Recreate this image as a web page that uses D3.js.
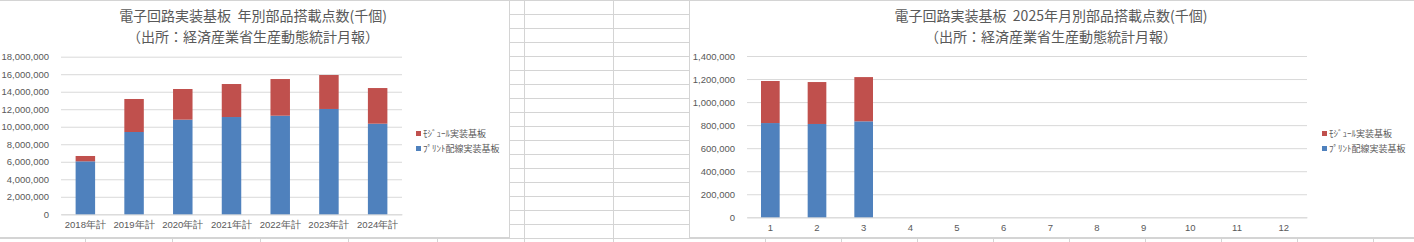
<!DOCTYPE html>
<html>
<head>
<meta charset="utf-8">
<script src="https://cdn.jsdelivr.net/npm/d3@7"></script>
<style>
  body { margin: 0; background: #fff; }
  svg { display: block; font-family: "Noto Sans CJK JP", "Noto Sans", sans-serif; }
  .tick text { fill: #595959; }
</style>
</head>
<body>
<svg width="1414" height="242"></svg>
<script>
// yearly totals (left chart)
const years = ["2018年計", "2019年計", "2020年計", "2021年計", "2022年計", "2023年計", "2024年計"];
const printYear = [6050000, 9400000, 10810000, 11110000, 11260000, 12030000, 10350000];
const moduleYear = [610000, 3770000, 3500000, 3770000, 4190000, 3880000, 4070000];
const yearTicks = [0, 2000000, 4000000, 6000000, 8000000, 10000000, 12000000, 14000000, 16000000, 18000000];

// 2025 monthly (right chart)
const months = ["1", "2", "3", "4", "5", "6", "7", "8", "9", "10", "11", "12"];
const printMonth = [818000, 810000, 833000];
const moduleMonth = [365000, 364000, 384000];
const monthTicks = [0, 200000, 400000, 600000, 800000, 1000000, 1200000, 1400000];

const seriesNames = ["ﾓｼﾞｭｰﾙ実装基板", "ﾌﾟﾘﾝﾄ配線実装基板"];
const colors = { print: "#4F81BD", module: "#C0504D" };
const textColor = "#595959";
const gridColor = "#D9D9D9";
const sheetColor = "#D4D4D4";

const svg = d3.select("svg");
const W = 1414, H = 242;

// spreadsheet cells behind the charts
const sheet = svg.append("g");
d3.range(0, 18).forEach((i) => {
  sheet.append("line")
    .attr("x1", 0).attr("x2", W)
    .attr("y1", i * 14 + 0.5).attr("y2", i * 14 + 0.5)
    .attr("stroke", sheetColor);
});
[85, 172, 260, 348, 437, 524, 613, 765, 841, 917, 993, 1069, 1145, 1221, 1297, 1373].forEach((x) => {
  sheet.append("line")
    .attr("x1", x + 0.5).attr("x2", x + 0.5)
    .attr("y1", 0).attr("y2", H)
    .attr("stroke", sheetColor);
});

function drawChart(opt) {
  const g = svg.append("g");
  // chart frame
  g.append("rect")
    .attr("x", opt.frame[0] + 0.5).attr("y", 0.5)
    .attr("width", opt.frame[1] - opt.frame[0]).attr("height", 237)
    .attr("fill", "#fff").attr("stroke", sheetColor);

  const x = d3.scaleBand()
    .domain(opt.cats)
    .range([opt.left, opt.right])
    .paddingInner(0.6)
    .paddingOuter(0.3);

  const y = d3.scaleLinear()
    .domain([0, d3.max(opt.ticks)])
    .range([opt.bottom, opt.top]);

  const yAxis = d3.axisLeft(y)
    .tickValues(opt.ticks)
    .tickFormat(d3.format(","))
    .tickSize(-(opt.right - opt.left))
    .tickPadding(12);

  const ya = g.append("g")
    .attr("transform", `translate(${opt.left},0)`)
    .call(yAxis);
  ya.select(".domain").remove();
  ya.selectAll(".tick line").attr("stroke", gridColor);
  ya.selectAll(".tick text").attr("font-size", 9.5);

  const xa = g.append("g")
    .attr("transform", `translate(0,${opt.bottom})`)
    .call(d3.axisBottom(x).tickSize(0).tickPadding(7));
  xa.select(".domain").attr("stroke", gridColor);
  xa.selectAll(".tick text").attr("font-size", 9.5);

  const rows = opt.print.map((p, i) => ({ cat: opt.cats[i], print: p, module: opt.module[i] }));
  const stack = d3.stack().keys(["print", "module"])(rows);

  g.selectAll(".layer")
    .data(stack)
    .enter()
    .append("g")
    .attr("fill", (d) => colors[d.key])
    .selectAll("rect")
    .data((d) => d)
    .enter()
    .append("rect")
    .attr("x", (d) => x(d.data.cat))
    .attr("width", x.bandwidth())
    .attr("y", (d) => y(d[1]))
    .attr("height", (d) => y(d[0]) - y(d[1]));

  // title
  const t = g.append("text")
    .attr("x", opt.titleX)
    .attr("text-anchor", "middle")
    .attr("fill", textColor)
    .attr("font-size", 14);
  t.append("tspan").attr("x", opt.titleX).attr("y", 21).text(opt.title);
  t.append("tspan").attr("x", opt.titleX).attr("y", 42).text("（出所：経済産業省生産動態統計月報）");

  // legend
  const leg = g.append("g").attr("transform", `translate(${opt.legendX},131)`);
  seriesNames.forEach((name, i) => {
    leg.append("rect")
      .attr("x", 0).attr("y", i * 15)
      .attr("width", 5).attr("height", 5)
      .attr("fill", i === 0 ? colors.module : colors.print);
    leg.append("text")
      .attr("x", 7).attr("y", i * 15 + 6)
      .attr("font-size", 9)
      .attr("fill", textColor)
      .text(name);
  });
}

drawChart({
  frame: [-1, 509],
  cats: years, print: printYear, module: moduleYear, ticks: yearTicks,
  left: 61, right: 402, top: 56.7, bottom: 214.3,
  titleX: 253, title: "電子回路実装基板\u00a0\u00a0年別部品搭載点数(千個)",
  legendX: 416
});

drawChart({
  frame: [689, 1416],
  cats: months, print: printMonth, module: moduleMonth, ticks: monthTicks,
  left: 747, right: 1307, top: 56, bottom: 217.3,
  titleX: 1051, title: "電子回路実装基板\u00a0\u00a02025年月別部品搭載点数(千個)",
  legendX: 1322
});

// row line under the charts
svg.append("line")
  .attr("x1", 0).attr("x2", W)
  .attr("y1", 238.5).attr("y2", 238.5)
  .attr("stroke", sheetColor);
</script>
</body>
</html>
